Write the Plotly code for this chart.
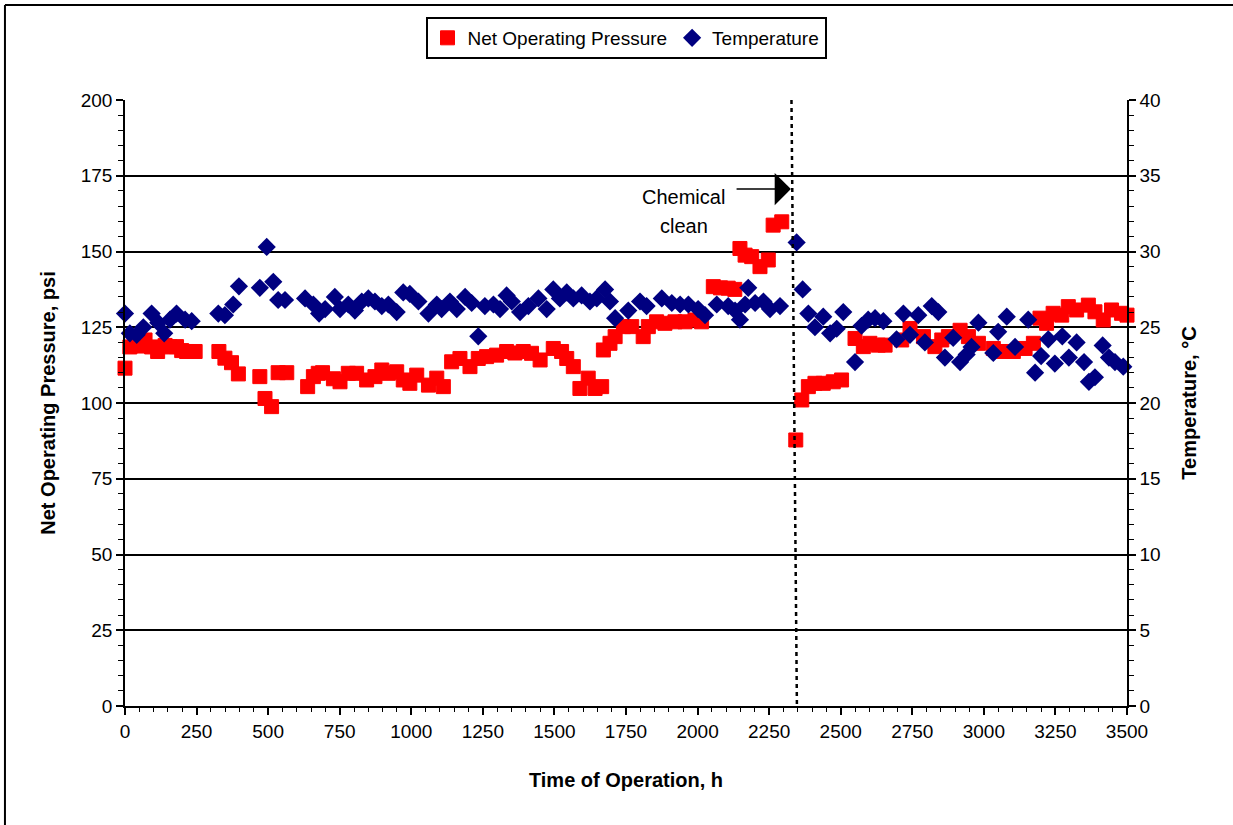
import plotly.graph_objects as go

# Net operating pressure readings: hours of operation and psi
pressure_hours = [0, 17, 47, 70, 93, 114, 140, 157, 180, 198, 215, 245,
                  328, 349, 372, 396, 471, 489, 512, 535, 565, 638, 658, 675,
                  690, 728, 751, 780, 809, 844, 873, 897, 920, 949, 972, 995,
                  1019, 1060, 1089, 1112, 1141, 1170, 1205, 1234, 1263, 1298,
                  1333, 1362, 1391, 1420, 1450, 1496, 1525, 1543, 1566, 1589,
                  1618, 1642, 1665, 1671, 1694, 1712, 1741, 1770, 1810, 1828,
                  1857, 1886, 1921, 1956, 1991, 2014, 2055, 2080, 2107, 2130,
                  2148, 2166, 2189, 2218, 2247, 2264, 2294, 2343, 2364, 2387,
                  2410, 2439, 2474, 2503, 2550, 2579, 2602, 2631, 2655, 2713,
                  2742, 2789, 2829, 2853, 2876, 2917, 2946, 2981, 3033, 3068,
                  3103, 3144, 3173, 3196, 3219, 3242, 3272, 3295, 3324, 3365,
                  3388, 3417, 3446, 3481, 3500]
pressure_psi = [111.5, 118.5, 118.8, 120.8, 118.5, 117, 119, 118.5, 118.6, 117.3, 117, 117,
                117, 114.8, 113.3, 109.6, 108.7, 101.5, 98.8, 110, 110, 105.4, 108.7, 109.8,
                110, 108, 107, 109.8, 109.8, 107.6, 108.7, 110.9, 109.8, 110.3, 107.6, 106.5,
                109.2, 105.9, 108.2, 105.4, 113.6, 114.7, 112, 114.7, 115.3, 115.8,
                117, 116.5, 117, 116.4, 114.2, 118, 117, 114.7, 112, 104.8,
                108.2, 104.8, 105.4, 117.5, 119.7, 121.9, 125.2, 125.2, 121.9, 125.2,
                126.8, 126.3, 126.8, 126.8, 127.4, 126.8, 138.4, 138.0, 137.9, 137.5,
                151, 148.8, 148.3, 145, 147.2, 158.7, 159.8, 87.8, 101, 105.4,
                106.5, 106.5, 107, 107.6, 121.3, 118.6, 119.7, 119.1, 119.1, 120.8,
                124.6, 121.9, 118.6, 120.8, 121.9, 124, 121.9, 119.7, 118, 117,
                117, 118, 119.7, 128, 126.3, 129.6, 129, 131.8, 130.7, 132.3,
                130.1, 127.4, 130.7, 129.6, 129]

# Feed temperature readings: hours of operation and degrees Celsius
temp_hours = [0, 17, 41, 64, 93, 116, 137, 157, 180, 210, 233,
              326, 349, 378, 398, 471, 495, 518, 535, 559, 629, 658, 678,
              699, 733, 751, 780, 803, 827, 850, 873, 897, 920, 949, 972, 995,
              1025, 1060, 1089, 1106, 1135, 1159, 1188, 1211, 1234, 1257, 1287,
              1310, 1333, 1351, 1380, 1409, 1444, 1473, 1496, 1519, 1543, 1566,
              1595, 1624, 1648, 1677, 1694, 1712, 1758, 1799, 1822, 1875, 1910,
              1939, 1968, 2002, 2026, 2067, 2107, 2131, 2148, 2166, 2177, 2201,
              2230, 2253, 2288, 2346, 2367, 2387, 2410, 2439, 2463, 2486, 2509,
              2550, 2573, 2596, 2620, 2649, 2695, 2719, 2742, 2771, 2794, 2818,
              2841, 2864, 2893, 2917, 2940, 2957, 2981, 3033, 3050, 3080, 3109,
              3155, 3179, 3200, 3225, 3248, 3274, 3297, 3324, 3350, 3367, 3388,
              3415, 3437, 3458, 3487]
temp_c = [25.9, 24.6, 24.5, 25.0, 25.9, 25.3, 24.6, 25.5, 25.9, 25.5, 25.4,
          25.9, 25.8, 26.5, 27.7, 27.6, 30.3, 28.0, 26.8, 26.8, 26.9, 26.5, 25.9,
          26.2, 27.0, 26.2, 26.5, 26.1, 26.7, 26.9, 26.7, 26.4, 26.5, 26.0, 27.3, 27.2,
          26.7, 25.9, 26.5, 26.2, 26.7, 26.2, 27.0, 26.6, 24.4, 26.4, 26.5,
          26.2, 27.1, 26.7, 26.0, 26.4, 26.9, 26.2, 27.5, 26.9, 27.3, 26.9,
          27.1, 26.7, 26.9, 27.5, 26.7, 25.6, 26.1, 26.7, 26.4, 26.9, 26.6,
          26.5, 26.5, 26.2, 25.8, 26.5, 26.4, 26.1, 25.5, 26.5, 27.6, 26.6,
          26.7, 26.2, 26.4, 30.6, 27.5, 25.9, 25.0, 25.7, 24.6, 24.9, 26.0,
          22.7, 25.1, 25.5, 25.6, 25.4, 24.2, 25.9, 24.5, 25.8, 24.0, 26.4,
          26.0, 23.0, 24.3, 22.7, 23.2, 23.7, 25.3, 23.3, 24.7, 25.7, 23.7,
          25.5, 22.0, 23.1, 24.2, 22.6, 24.4, 23.0, 24.0, 22.7, 21.4, 21.7,
          23.8, 23.0, 22.7, 22.4]

# Chemical clean event (dotted marker line and arrow)
clean_line_top_h = 2328
clean_line_bottom_h = 2347
arrow_tail_h = 2131
arrow_tip_h = 2326
arrow_psi = 170.6

FONT = "Arial, Liberation Sans, sans-serif"

fig = go.Figure()

fig.add_trace(go.Scatter(
    x=pressure_hours, y=pressure_psi, mode="markers",
    name="Net Operating Pressure",
    marker=dict(symbol="square", size=14, color="#FF0000",
                line=dict(color="#FF0000", width=1)),
    cliponaxis=False, yaxis="y",
))

fig.add_trace(go.Scatter(
    x=temp_hours, y=temp_c, mode="markers",
    name="Temperature",
    marker=dict(symbol="diamond", size=14, color="#000080",
                line=dict(width=0)),
    cliponaxis=False, yaxis="y2",
))

fig.update_layout(
    width=1233, height=825,
    margin=dict(l=125, r=106, t=100, b=119),
    paper_bgcolor="white", plot_bgcolor="white",
    font=dict(family=FONT, size=19, color="black"),
    showlegend=True,
    legend=dict(
        orientation="h", x=0.5, xanchor="center", y=1.137, yanchor="top",
        bordercolor="black", borderwidth=2, bgcolor="white",
        font=dict(family=FONT, size=19, color="black"),
        itemwidth=30, tracegroupgap=0,
    ),
    xaxis=dict(
        range=[0, 3500], tick0=0, dtick=250,
        ticks="outside", ticklen=7, tickwidth=1.5, tickcolor="black",
        showline=True, linecolor="black", linewidth=1.5,
        showgrid=False, zeroline=False,
        minor=dict(dtick=50, ticks="outside", ticklen=4, tickwidth=1,
                   tickcolor="black", showgrid=False),
        title=dict(text="<b>Time of Operation, h</b>", standoff=32,
                   font=dict(family=FONT, size=20)),
    ),
    yaxis=dict(
        range=[0, 200], tick0=0, dtick=25,
        ticks="outside", ticklen=7, tickwidth=1.5, tickcolor="black",
        showline=True, linecolor="black", linewidth=1.5,
        showgrid=True, gridcolor="black", gridwidth=1.5, zeroline=False,
        minor=dict(dtick=5, ticks="outside", ticklen=5, tickwidth=1,
                   tickcolor="black", showgrid=False),
        title=dict(text="<b>Net Operating Pressure, psi</b>", standoff=20,
                   font=dict(family=FONT, size=20)),
    ),
    yaxis2=dict(
        range=[0, 40], tick0=0, dtick=5, overlaying="y", side="right",
        ticks="outside", ticklen=7, tickwidth=1.5, tickcolor="black",
        showline=True, linecolor="black", linewidth=1.5,
        showgrid=False, zeroline=False,
        minor=dict(dtick=1, ticks="outside", ticklen=5, tickwidth=1,
                   tickcolor="black", showgrid=False),
        title=dict(text="<b>Temperature, °C</b>", standoff=22,
                   font=dict(family=FONT, size=20)),
    ),
)

# Dotted line marking the chemical clean
fig.add_shape(type="line", xref="x", yref="y",
              x0=clean_line_top_h, y0=200, x1=clean_line_bottom_h, y1=0,
              line=dict(color="black", width=2.5, dash="4px,4px"),
              layer="above")

# Arrow pointing at the clean event
fig.add_annotation(x=arrow_tip_h, y=arrow_psi, ax=arrow_tail_h, ay=arrow_psi,
                   xref="x", yref="y", axref="x", ayref="y",
                   text="", showarrow=True, arrowhead=1, arrowsize=3.6,
                   arrowwidth=1.5, arrowcolor="black", standoff=0)

fig.add_annotation(x=1952, y=168, xref="x", yref="y", text="Chemical",
                   showarrow=False, font=dict(family=FONT, size=20))
fig.add_annotation(x=1952, y=158.4, xref="x", yref="y", text="clean",
                   showarrow=False, font=dict(family=FONT, size=20))

# Outer chart frame: top and left edges
frame_left, frame_top = -0.1198, 1.1568
fig.add_shape(type="line", xref="paper", yref="paper",
              x0=frame_left, y0=frame_top, x1=1.25, y1=frame_top,
              line=dict(color="black", width=2), layer="above")
fig.add_shape(type="line", xref="paper", yref="paper",
              x0=frame_left, y0=frame_top, x1=frame_left, y1=-0.3,
              line=dict(color="black", width=2), layer="above")

fig.write_html("out.html")
